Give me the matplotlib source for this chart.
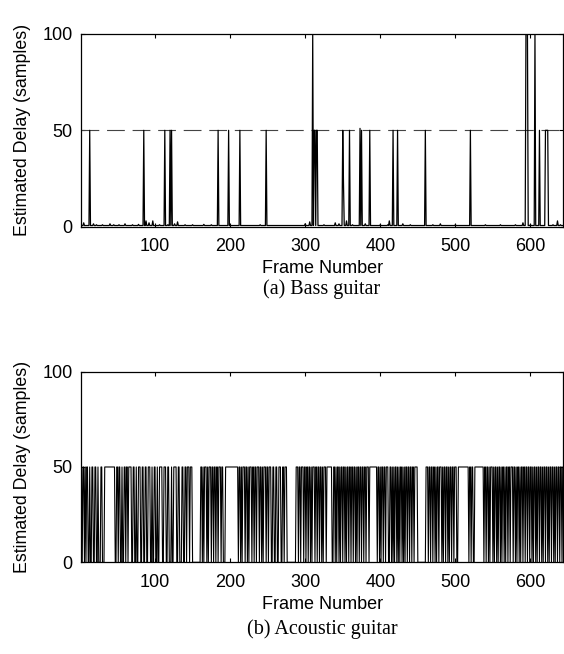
import numpy as np
import matplotlib
matplotlib.use("Agg")
import matplotlib.pyplot as plt

plt.rcParams['font.family'] = ['Liberation Sans', 'DejaVu Sans']

n_frames = 644

# (a) Bass guitar: spikes (frame, delay) on a near-zero baseline
bass_spikes = [
    (13, 50), (85, 50), (113, 50), (120, 50), (122, 50), (184, 50), (198, 50),
    (213, 50), (248, 50), (310, 100), (312, 50), (313, 50), (315, 50), (316, 50),
    (350, 50), (351, 22), (359, 50), (373, 51), (375, 50), (386, 50), (417, 50),
    (423, 50), (460, 50), (520, 50), (594, 100), (595, 100), (596, 100),
    (606, 100), (612, 50), (620, 50), (621, 50), (622, 50), (623, 50),
]
bass_bumps = [
    (5, 2), (18, 1.5), (22, 1), (30, 1), (40, 1.5), (45, 1), (52, 1), (60, 1.5),
    (70, 1), (78, 1.2), (88, 3), (92, 2), (97, 3), (106, 1), (117, 1), (126, 1.5),
    (130, 2.5), (140, 1), (150, 1), (165, 1.2), (175, 1), (240, 1), (300, 1.5),
    (306, 2.5), (325, 1), (340, 2), (345, 1.5), (355, 3), (363, 1), (380, 1.5),
    (400, 1), (410, 1), (412, 3), (430, 1.5), (440, 1), (470, 1), (480, 1.5),
    (500, 1), (540, 1), (560, 1), (580, 1), (590, 2), (600, 1), (630, 1),
    (636, 3), (640, 1),
]
bass_base = 0.6

# (b) Acoustic guitar: frame ranges where the estimate sits at 50 (else 0)
acoustic_high = [
    (1, 2), (4, 5), (7, 7), (9, 10), (13, 13), (16, 17), (20, 21), (24, 24),
    (28, 29), (33, 46), (49, 50), (52, 53), (56, 56), (59, 60), (62, 63),
    (65, 68), (71, 72), (75, 75), (78, 80), (83, 84), (87, 88), (91, 93),
    (96, 96), (99, 100), (103, 103), (106, 109), (112, 114), (117, 118),
    (122, 122), (125, 128), (131, 132), (136, 137), (140, 141), (143, 145),
    (147, 149), (161, 162), (164, 164), (166, 168), (170, 170), (172, 174),
    (176, 177), (179, 180), (182, 183), (185, 187), (189, 190), (194, 210),
    (212, 213), (215, 215), (217, 219), (221, 222), (224, 224), (226, 228),
    (230, 231), (233, 234), (236, 238), (240, 241), (243, 243), (245, 247),
    (249, 250), (252, 254), (257, 258), (261, 262), (265, 267), (270, 271),
    (273, 275), (288, 290), (292, 293), (295, 297), (299, 300), (302, 303),
    (305, 306), (308, 308), (310, 312), (314, 315), (317, 318), (320, 321),
    (323, 323), (325, 327), (329, 335), (338, 339), (341, 341), (343, 344),
    (346, 346), (348, 349), (351, 352), (354, 354), (356, 357), (359, 360),
    (362, 363), (365, 366), (368, 368), (370, 371), (373, 374), (376, 377),
    (379, 380), (382, 384), (386, 395), (397, 398), (400, 400), (402, 403),
    (405, 406), (408, 410), (413, 414), (416, 416), (418, 418), (420, 421),
    (423, 423), (425, 425), (427, 428), (430, 430), (432, 432), (434, 435),
    (437, 438), (440, 441), (443, 444), (446, 449), (461, 463), (465, 466),
    (468, 469), (471, 472), (474, 474), (476, 477), (479, 481), (483, 483),
    (485, 486), (488, 489), (491, 491), (493, 494), (496, 497), (499, 501),
    (504, 517), (519, 520), (522, 523), (526, 537), (539, 540), (542, 543),
    (545, 545), (547, 549), (551, 551), (553, 554), (556, 556), (558, 559),
    (561, 561), (563, 564), (566, 566), (568, 569), (571, 572), (574, 576),
    (578, 579), (581, 581), (583, 584), (586, 586), (588, 589), (591, 592),
    (594, 595), (597, 598), (600, 601), (603, 603), (605, 606), (608, 608),
    (610, 611), (613, 614), (616, 616), (618, 619), (621, 622), (624, 624),
    (626, 627), (629, 630), (632, 632), (634, 635), (637, 638), (640, 641),
    (643, 644),
]

frames = np.arange(1, n_frames + 1)

bass = np.full(n_frames, bass_base)
for f, v in bass_bumps:
    bass[f - 1] = v
for f, v in bass_spikes:
    bass[f - 1] = v

acoustic = np.zeros(n_frames)
for a, b in acoustic_high:
    acoustic[a - 1:b] = 50


def style_axes(ax):
    ax.set_xlim(1, 644)
    ax.set_ylim(0, 100)
    ax.set_xticks([100, 200, 300, 400, 500, 600])
    ax.set_yticks([0, 50, 100])
    ax.tick_params(direction='in', top=True, right=True, labelsize=13,
                   length=3, width=0.8)
    ax.tick_params(axis='x', pad=8.5)
    ax.tick_params(axis='y', pad=6)
    for s in ax.spines.values():
        s.set_linewidth(0.9)
    ax.set_xlabel("Frame Number", fontsize=13, labelpad=3.5)
    ax.set_ylabel("Estimated Delay (samples)", fontsize=12.8, labelpad=8)


fig = plt.figure(figsize=(5.64, 6.54), dpi=100)

ax1 = fig.add_axes([0.1431, 0.6534, 0.856, 0.2947])
ax1.axhline(50, color='#444444', lw=0.8, dashes=(16, 7))
ax1.plot(frames, bass, color='black', lw=0.9)
style_axes(ax1)
fig.text(0.571, 1 - 289 / 654, "(a) Bass guitar", ha='center', va='center',
         fontsize=14.5, family='Liberation Serif')

ax2 = fig.add_axes([0.1431, 0.1402, 0.856, 0.2915])
ax2.plot(frames, acoustic, color='black', lw=0.8)
style_axes(ax2)
fig.text(0.571, 1 - 629 / 654, "(b) Acoustic guitar", ha='center', va='center',
         fontsize=14.5, family='Liberation Serif')

fig.savefig("out.png", dpi=100)
